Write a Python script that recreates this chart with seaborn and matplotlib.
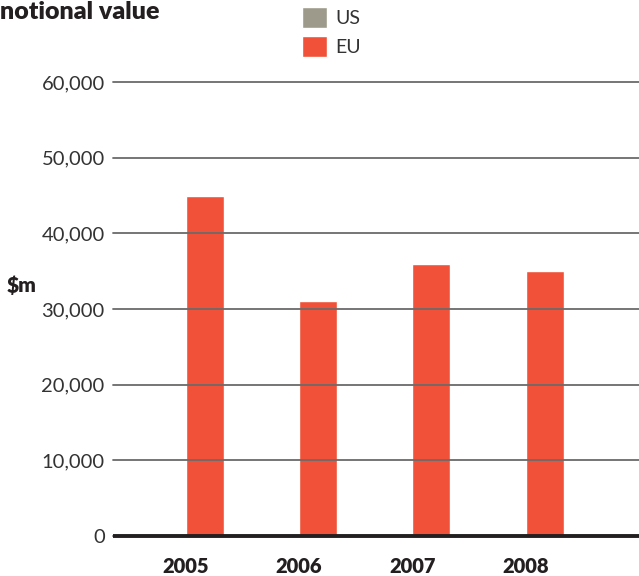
import matplotlib
matplotlib.use("Agg")
import matplotlib.pyplot as plt
import seaborn as sns
import pandas as pd

years = ["2005", "2006", "2007", "2008"]
us_values = [0, 0, 0, 0]
eu_values = [45000, 31000, 36000, 35000]
yticks = [0, 10000, 20000, 30000, 40000, 50000, 60000]
ytick_labels = ["0", "10,000", "20,000", "30,000", "40,000", "50,000", "60,000"]

sns.set_theme(style="white")
plt.rcParams["font.family"] = ["Lato", "DejaVu Sans"]

df = pd.DataFrame({
    "year": years * 2,
    "region": ["US"] * len(years) + ["EU"] * len(years),
    "value": us_values + eu_values,
})

fig = plt.figure(figsize=(6.39, 5.76), dpi=100)
ax = fig.add_axes([113 / 639, 40 / 576, 1 - 113 / 639, 454 / 576])

sns.barplot(data=df, x="year", y="value", hue="region", order=years,
            hue_order=["US", "EU"], palette={"US": "#9d9a8b", "EU": "#f05138"},
            saturation=1, width=0.67, ax=ax, legend=True)

ax.set_xlim(-0.64, 4.0)
ax.set_ylim(0, 60000)
ax.set_yticks(yticks)
ax.set_yticklabels(ytick_labels)
ax.set_axisbelow(False)
ax.yaxis.grid(True, color="#6a6a6a", linewidth=1.3, zorder=2.5)
ax.xaxis.grid(False)
for gl in ax.get_ygridlines():
    gl.set_clip_on(False)
ax.axhline(0, color="#231f20", linewidth=2.8, zorder=3, clip_on=False,
           solid_capstyle="butt")
for s in ax.spines.values():
    s.set_visible(False)
ax.tick_params(axis="y", length=0, pad=6, labelsize=14.5, labelcolor="#333333")
ax.tick_params(axis="x", length=0, pad=15, labelsize=14.5, labelcolor="#231f20")
for t in ax.get_xticklabels():
    t.set_fontweight("heavy")
ax.set_xlabel("")
ax.set_ylabel("")

handles, labels = ax.get_legend_handles_labels()
ax.legend(handles, labels, loc="upper left",
          bbox_to_anchor=(302 / 639, 1 - 7 / 576), bbox_transform=fig.transFigure,
          frameon=False, fontsize=14, handlelength=1.3, handleheight=1.3,
          labelspacing=0.4, handletextpad=0.4, borderpad=0, borderaxespad=0,
          labelcolor="#333333")

fig.text(0.0, 1 - 1 / 576, "notional value", ha="left", va="top",
         fontsize=18, fontweight="heavy", color="#231f20")
fig.text(7 / 639, 1 - 285 / 576, r"\$m", ha="left", va="center",
         fontsize=15, fontweight="heavy", color="#231f20")

fig.savefig("out.png", dpi=100)
